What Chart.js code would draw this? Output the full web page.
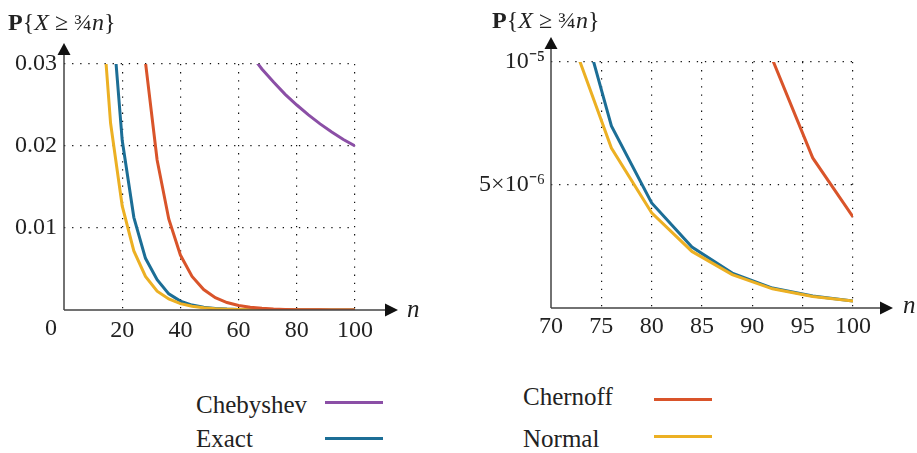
<!DOCTYPE html>
<html>
<head>
<meta charset="utf-8">
<script src="https://cdn.jsdelivr.net/npm/chart.js@4.4.0/dist/chart.umd.min.js"></script>
<style>
  body { margin: 0; background: #fff; width: 917px; height: 453px; position: relative; overflow: hidden; color: #222; }
  .cv { position: absolute; top: 0; }
  .txt { position: absolute; white-space: nowrap; line-height: 1; font-family: 'Liberation Serif', serif; }
  .title { font-size: 24px; }
  .sw { position: absolute; height: 3px; width: 58px; }
  .leg { font-size: 25px; }
</style>
</head>
<body>
<div class="cv" style="left:0;width:440px;height:360px"><canvas id="leftChart"></canvas></div>
<div class="cv" style="left:440px;width:477px;height:360px"><canvas id="rightChart"></canvas></div>

<div class="txt title" style="left:8px;top:10px"><b>P</b>{<i>X</i> ≥ ¾<i>n</i>}</div>
<div class="txt title" style="left:492px;top:8px"><b>P</b>{<i>X</i> ≥ ¾<i>n</i>}</div>
<div class="txt" style="left:45px;top:315px;font-size:24px">0</div>
<div class="txt" style="left:407px;top:296px;font-size:25px"><i>n</i></div>
<div class="txt" style="left:903px;top:292px;font-size:25px"><i>n</i></div>

<div id="legend"></div>

<script>
// n sampled every 4 (so 3n/4 is a whole number)
const nValues = [12, 16, 20, 24, 28, 32, 36, 40, 44, 48, 52, 56, 60, 64, 68, 72, 76, 80, 84, 88, 92, 96, 100];

const chebyshev = [null, null, null, null, null, null, null, null, null, null, null, null, null,
  0.03125, 0.0294, 0.0278, 0.0263, 0.025, 0.0238, 0.0227, 0.0217, 0.0208, 0.02];
const chernoff = [null, null, null, 0.0498, 0.0302, 0.0183, 0.0111, 0.0067, 0.0041, 0.0025, 0.0015, 0.00091,
  0.00055, 0.00034, 0.0002, 0.00012, 7.5e-5, 4.5e-5, 2.75e-5, 1.67e-5, 1.01e-5, 6.1e-6, 3.7e-6];
const exact = [0.073, 0.0384, 0.0207, 0.0113, 0.0063, 0.0037, 0.00197, 0.00108, 0.0006, 0.00034, 0.00019, 0.00011,
  6.4e-5, 3.7e-5, 2.2e-5, 1.33e-5, 7.4e-6, 4.27e-6, 2.48e-6, 1.42e-6, 8.1e-7, 4.9e-7, 2.8e-7];
const normal = [0.0416, 0.0228, 0.0127, 0.0072, 0.0041, 0.0023, 0.00135, 0.00078, 0.00045, 0.00027, 0.000156, 9.1e-5,
  5.4e-5, 3.2e-5, 1.87e-5, 1.1e-5, 6.5e-6, 3.87e-6, 2.3e-6, 1.36e-6, 7.8e-7, 4.7e-7, 2.85e-7];

// tick values / labels
const leftXTicks = [20, 40, 60, 80, 100];
const leftYTicks = [0.01, 0.02, 0.03];
const leftYLabels = ["0.01", "0.02", "0.03"];
const rightXTicks = [70, 75, 80, 85, 90, 95, 100];
const rightYTicks = [5e-6, 1e-5];
const rightYLabels = ["5×10⁻⁶", "10⁻⁵"];

const COLORS = {
  Chebyshev: "#8b4fa6",
  Chernoff: "#d9542a",
  Exact: "#1c6e96",
  Normal: "#ecb023",
};

const FONT = { family: "'Liberation Serif', serif", size: 24 };

function series(label, values) {
  return {
    label,
    data: nValues.map((n, i) => ({ x: n, y: values[i] })),
    borderColor: COLORS[label],
    borderWidth: 3,
    pointRadius: 0,
    tension: 0,
    fill: false,
  };
}

// === Axis lines with arrow heads ===
const arrowAxes = {
  id: "arrowAxes",
  afterDraw(chart, args, opts) {
    const { ctx, chartArea: a } = chart;
    const x0 = a.left, y0 = a.bottom;
    const xEnd = a.right + opts.extendX;
    const yEnd = a.top - opts.extendY;
    ctx.save();
    ctx.strokeStyle = "#444";
    ctx.fillStyle = "#111";
    ctx.lineWidth = 1.5;
    ctx.beginPath();
    ctx.moveTo(x0, y0);
    ctx.lineTo(xEnd - 10, y0);
    ctx.moveTo(x0, y0);
    ctx.lineTo(x0, yEnd + 10);
    ctx.stroke();
    ctx.beginPath();
    ctx.moveTo(xEnd, y0);
    ctx.lineTo(xEnd - 13, y0 - 6.5);
    ctx.lineTo(xEnd - 13, y0 + 6.5);
    ctx.closePath();
    ctx.fill();
    ctx.beginPath();
    ctx.moveTo(x0, yEnd);
    ctx.lineTo(x0 - 6.5, yEnd + 12);
    ctx.lineTo(x0 + 6.5, yEnd + 12);
    ctx.closePath();
    ctx.fill();
    ctx.restore();
  },
};

function makeChart(id, datasets, cfg) {
  return new Chart(document.getElementById(id), {
    type: "line",
    data: { datasets },
    plugins: [arrowAxes],
    options: {
      responsive: true,
      maintainAspectRatio: false,
      animation: false,
      events: [],
      layout: { padding: { top: cfg.padTop, right: cfg.padRight, left: 0, bottom: 0 } },
      plugins: {
        legend: { display: false },
        tooltip: { enabled: false },
        arrowAxes: { extendX: cfg.extendX, extendY: cfg.extendY },
      },
      scales: {
        x: {
          type: "linear",
          min: cfg.xMin,
          max: cfg.xMax,
          afterBuildTicks: (s) => { s.ticks = cfg.xTicks.map((v) => ({ value: v })); },
          afterFit: (s) => { s.height = cfg.xHeight; },
          grid: {
            drawTicks: false,
            color: (c) => (c.tick && c.tick.value === cfg.xMin ? "transparent" : "#111"),
            lineWidth: 1.2,
          },
          border: { display: false, dash: [1.3, 6.8] },
          ticks: {
            padding: cfg.xPad,
            color: "#222",
            font: FONT,
            maxRotation: 0,
            autoSkip: false,
            callback: (v) => String(v),
          },
        },
        y: {
          type: "linear",
          min: 0,
          max: cfg.yMax,
          afterBuildTicks: (s) => { s.ticks = cfg.yTicks.map((v) => ({ value: v })); },
          afterFit: (s) => { s.width = cfg.yWidth; },
          grid: { drawTicks: false, color: "#111", lineWidth: 1.2 },
          border: { display: false, dash: [1.3, 6.8] },
          ticks: {
            padding: cfg.yPad,
            color: "#222",
            font: FONT,
            autoSkip: false,
            callback: (v) => {
              const i = cfg.yTicks.findIndex((t) => Math.abs(t - v) < cfg.yMax * 1e-6);
              return i >= 0 ? cfg.yLabels[i] : "";
            },
          },
        },
      },
    },
  });
}

makeChart("leftChart", [
  series("Chebyshev", chebyshev),
  series("Chernoff", chernoff),
  series("Normal", normal),
  series("Exact", exact),
], {
  xMin: 0, xMax: 100, xTicks: leftXTicks, yMax: 0.03, yTicks: leftYTicks, yLabels: leftYLabels,
  padTop: 64, padRight: 85, xHeight: 50, yWidth: 64, xPad: 6, yPad: 7, extendX: 43, extendY: 21,
});

makeChart("rightChart", [
  series("Chernoff", chernoff),
  series("Normal", normal),
  series("Exact", exact),
], {
  xMin: 70, xMax: 100, xTicks: rightXTicks, yMax: 1e-5, yTicks: rightYTicks, yLabels: rightYLabels,
  padTop: 62, padRight: 64, xHeight: 52, yWidth: 111, xPad: 4, yPad: 6, extendX: 40, extendY: 25,
});

// === Legend (two columns, text then line swatch) ===
const legendItems = [
  { label: "Chebyshev", textX: 196, textY: 392, lineX: 325, lineY: 402 },
  { label: "Exact", textX: 196, textY: 426, lineX: 325, lineY: 438 },
  { label: "Chernoff", textX: 523, textY: 384, lineX: 654, lineY: 399 },
  { label: "Normal", textX: 523, textY: 426, lineX: 654, lineY: 436 },
];
document.getElementById("legend").innerHTML = legendItems
  .map((it) => `
    <div class="txt leg" style="left:${it.textX}px;top:${it.textY}px">${it.label}</div>
    <div class="sw" style="left:${it.lineX}px;top:${it.lineY - 1}px;background:${COLORS[it.label]}"></div>`)
  .join("");
</script>
</body>
</html>
